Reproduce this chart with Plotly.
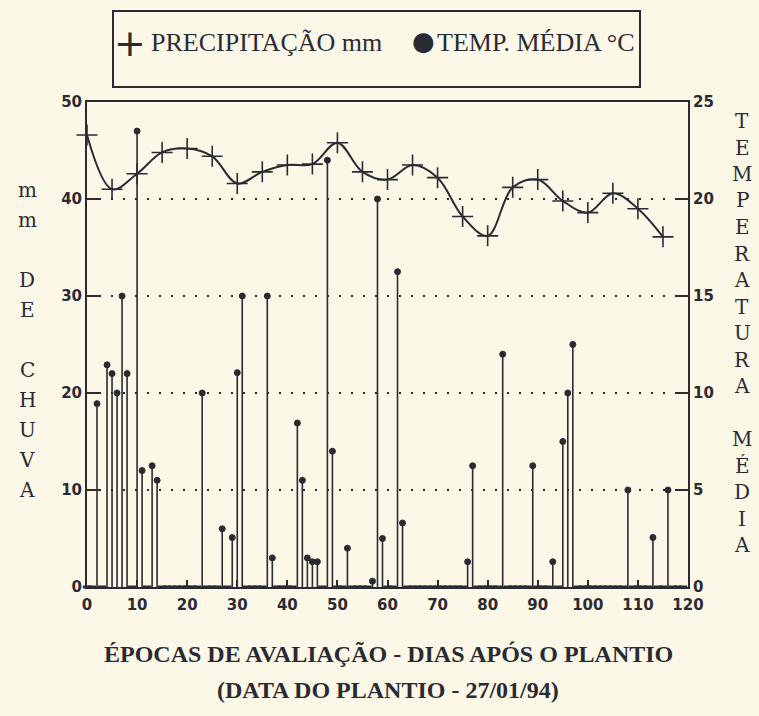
import plotly.graph_objects as go

# ---------------- data ----------------
precip_days = list(range(0, 120))
precip_vals = [
    0, 0, 18.9, 0, 22.9, 22.0, 20.0, 30.0, 22.0, 0,          # 0-9
    47.0, 12.0, 0, 12.5, 11.0, 0, 0, 0, 0, 0,                 # 10-19
    0, 0, 0, 20.0, 0, 0, 0, 6.0, 0, 5.1,                      # 20-29
    22.1, 30.0, 0, 0, 0, 0, 30.0, 3.0, 0, 0,                  # 30-39
    0, 0, 16.9, 11.0, 3.0, 2.6, 2.6, 0, 44.0, 14.0,           # 40-49
    0, 0, 4.0, 0, 0, 0, 0, 0.6, 40.0, 5.0,                    # 50-59
    0, 0, 32.5, 6.6, 0, 0, 0, 0, 0, 0,                        # 60-69
    0, 0, 0, 0, 0, 0, 2.6, 12.5, 0, 0,                        # 70-79
    0, 0, 0, 24.0, 0, 0, 0, 0, 0, 12.5,                       # 80-89
    0, 0, 0, 2.6, 0, 15.0, 20.0, 25.0, 0, 0,                  # 90-99
    0, 0, 0, 0, 0, 0, 0, 0, 10.0, 0,                          # 100-109
    0, 0, 0, 5.1, 0, 0, 10.0, 0, 0, 0,                        # 110-119
]
temp_days = list(range(0, 120, 5))
temp_vals = [23.3, 20.5, 21.3, 22.4, 22.6, 22.2, 20.8, 21.4, 21.75, 21.8,
             22.9, 21.4, 21.0, 21.75, 21.1, 19.1, 18.1, 20.6, 21.0, 19.9,
             19.3, 20.3, 19.5, 18.05]

x_ticks = list(range(0, 121, 10))
left_ticks = [0, 10, 20, 30, 40, 50]
right_ticks = [0, 5, 10, 15, 20, 25]

left_title = ["m", "m", "", "D", "E", "", "C", "H", "U", "V", "A"]
right_title = ["T", "E", "M", "P", "E", "R", "A", "T", "U", "R", "A", "",
               "M", "É", "D", "I", "A"]
legend_precip = "PRECIPITAÇÃO mm"
legend_temp = "TEMP. MÉDIA °C"
xtitle_1 = "ÉPOCAS DE AVALIAÇÃO - DIAS APÓS O PLANTIO"
xtitle_2 = "(DATA DO PLANTIO - 27/01/94)"

# ---------------- style ----------------
BG = "#fbf8e7"
INK = "#2b2a33"
W, H = 759, 716
L, R, T, B = 87, 71, 102, 129
PW, PH = W - L - R, H - T - B


def px_x(px):
    return (px - L) / PW


def px_y(py):
    return (H - B - py) / PH


fig = go.Figure()

# precipitation stems
symbols = ["circle" if v > 0 else "line-ew-open" for v in precip_vals]
mline = [1 if v > 0 else 3 for v in precip_vals]
fig.add_trace(go.Scatter(
    x=precip_days, y=precip_vals, mode="markers",
    marker=dict(symbol=symbols, size=6, color=INK, opacity=1,
                line=dict(color=INK, width=mline)),
    error_y=dict(type="data", symmetric=False,
                 array=[0] * len(precip_vals), arrayminus=precip_vals,
                 width=0, thickness=1.6, color=INK),
    showlegend=False, cliponaxis=False, hoverinfo="x+y",
))

# temperature curve
fig.add_trace(go.Scatter(
    x=temp_days, y=temp_vals, mode="lines+markers", yaxis="y2",
    line=dict(color=INK, width=2, shape="spline", smoothing=1.0),
    marker=dict(symbol="cross-thin", size=15, color=INK,
                line=dict(color=INK, width=1.6)),
    showlegend=False, cliponaxis=False,
))

tickfont = dict(family="DejaVu Sans", size=15, color=INK, weight="bold")

fig.update_layout(
    width=W, height=H,
    margin=dict(l=L, r=R, t=T, b=B, autoexpand=False),
    paper_bgcolor=BG, plot_bgcolor=BG,
    xaxis=dict(range=[0, 120], tickvals=x_ticks, ticks="inside", ticklen=7,
               tickwidth=1.5, tickcolor=INK, showline=True, linecolor=INK,
               linewidth=2, mirror=True, showgrid=False, zeroline=False,
               tickfont=tickfont, ticklabelstandoff=3),
    yaxis=dict(range=[0, 50], tickvals=left_ticks, ticks="inside", ticklen=12,
               tickwidth=1.5, tickcolor=INK, showline=True, linecolor=INK,
               linewidth=2, showgrid=True, gridcolor=INK, gridwidth=2,
               griddash="2px,10px", zeroline=False, tickfont=tickfont),
    yaxis2=dict(range=[0, 25], tickvals=right_ticks, ticks="inside",
                ticklen=12, tickwidth=1.5, tickcolor=INK, showline=True,
                linecolor=INK, linewidth=2, overlaying="y", side="right",
                showgrid=False, zeroline=False, tickfont=tickfont),
)

# legend box
fig.add_shape(type="rect", xref="paper", yref="paper",
              x0=px_x(113), x1=px_x(640), y0=px_y(11), y1=px_y(87),
              line=dict(color=INK, width=2), fillcolor=BG, layer="above")
serif = "Liberation Serif"
fig.add_annotation(xref="paper", yref="paper", x=px_x(130), y=px_y(43),
                   xanchor="center", yanchor="middle", showarrow=False,
                   text="+", font=dict(family="DejaVu Sans", size=38,
                                       color=INK))
fig.add_annotation(xref="paper", yref="paper", x=px_x(149), y=px_y(43),
                   xanchor="left", yanchor="middle", showarrow=False,
                   text=legend_precip,
                   font=dict(family=serif, size=26, color=INK))
fig.add_annotation(xref="paper", yref="paper", x=px_x(424), y=px_y(41),
                   xanchor="center", yanchor="middle", showarrow=False,
                   text="●", font=dict(family="DejaVu Sans", size=26,
                                       color=INK))
fig.add_annotation(xref="paper", yref="paper", x=px_x(435), y=px_y(43),
                   xanchor="left", yanchor="middle", showarrow=False,
                   text=legend_temp,
                   font=dict(family=serif, size=26, color=INK))

# vertical axis titles, one letter per row
vfont = "DejaVu Serif"
for i, ch in enumerate(left_title):
    if ch:
        fig.add_annotation(xref="paper", yref="paper", x=px_x(27),
                           y=px_y(190 + 30 * i), showarrow=False,
                           xanchor="center", yanchor="middle", text=ch,
                           font=dict(family=vfont, size=20, color=INK))
for i, ch in enumerate(right_title):
    if ch:
        fig.add_annotation(xref="paper", yref="paper", x=px_x(742),
                           y=px_y(121 + 26.5 * i), showarrow=False,
                           xanchor="center", yanchor="middle", text=ch,
                           font=dict(family=vfont, size=20, color=INK))

# bottom title
fig.add_annotation(xref="paper", yref="paper", x=px_x(388), y=px_y(654),
                   showarrow=False, xanchor="center", yanchor="middle",
                   text="<b>" + xtitle_1 + "</b>",
                   font=dict(family=serif, size=24, color=INK))
fig.add_annotation(xref="paper", yref="paper", x=px_x(388), y=px_y(690),
                   showarrow=False, xanchor="center", yanchor="middle",
                   text="<b>" + xtitle_2 + "</b>",
                   font=dict(family=serif, size=24, color=INK))

fig.write_html(
    "out.html",
    config={"displayModeBar": False},
    post_script="document.body.style.margin='0';"
                "document.body.style.overflow='hidden';",
)
